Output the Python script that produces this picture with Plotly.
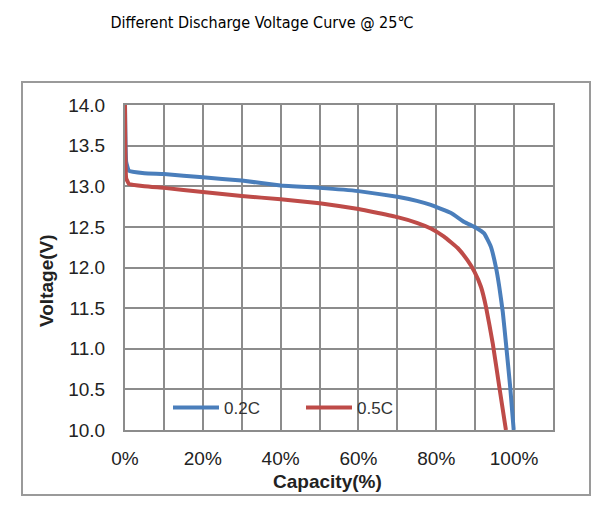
import plotly.graph_objects as go

cap_02 = [0, 0.3, 1, 5, 10, 20, 30, 40, 50, 60, 70, 75, 78.6, 83.8, 87.2, 90.2, 92.3, 94.0, 95.3, 96.2, 97.1, 97.9, 99.0, 99.9]
volt_02 = [14.0, 13.3, 13.19, 13.16, 13.15, 13.11, 13.07, 13.01, 12.98, 12.94, 12.87, 12.82, 12.77, 12.67, 12.56, 12.49, 12.42, 12.26, 12.01, 11.76, 11.45, 11.07, 10.53, 10.0]

cap_05 = [0, 0.3, 1, 5, 10, 20, 30, 40, 50, 60, 70, 75, 78.6, 82, 85.5, 88, 89.8, 91.5, 92.8, 94.5, 96.2, 97.9]
volt_05 = [14.0, 13.1, 13.03, 13.0, 12.98, 12.93, 12.88, 12.84, 12.79, 12.72, 12.62, 12.55, 12.48, 12.38, 12.24, 12.09, 11.95, 11.76, 11.51, 11.07, 10.53, 10.0]

x_ticks = [0, 10, 20, 30, 40, 50, 60, 70, 80, 90, 100, 110]
x_labels = ["0%", "", "20%", "", "40%", "", "60%", "", "80%", "", "100%", ""]
y_ticks = [10.0, 10.5, 11.0, 11.5, 12.0, 12.5, 13.0, 13.5, 14.0]
y_labels = ["10.0", "10.5", "11.0", "11.5", "12.0", "12.5", "13.0", "13.5", "14.0"]

fig = go.Figure()
fig.add_trace(go.Scatter(x=cap_02, y=volt_02, mode="lines", name="0.2C",
                         line=dict(color="#4A7EBB", width=4, shape="spline", smoothing=0.3)))
fig.add_trace(go.Scatter(x=cap_05, y=volt_05, mode="lines", name="0.5C",
                         line=dict(color="#BE4B48", width=4, shape="spline", smoothing=0.3)))

# page body has an 8px offset
OFF = 8
W, H = 608 - 2 * OFF, 513 - 2 * OFF
L, T = 125 - OFF, 105 - OFF
R = W - (553 - OFF)
B = H - (430 - OFF)
pw, ph = W - L - R, H - T - B

def px(p):
    return (p - OFF - L) / pw

def py(p):
    return (H - B - (p - OFF)) / ph

fig.add_shape(type="rect", xref="paper", yref="paper",
              x0=px(22), x1=px(590), y0=py(495), y1=py(82),
              line=dict(color="#9a9a9a", width=2), layer="below")

fig.add_annotation(text="<b>Capacity(%)</b>", xref="paper", yref="paper",
                   x=px(327), y=py(481), xanchor="center", yanchor="middle", showarrow=False,
                   font=dict(family="Liberation Sans, Arial", size=19, color="#222"))
fig.add_annotation(text="<b>Voltage(V)</b>", xref="paper", yref="paper",
                   x=px(46), y=py(281), xanchor="center", yanchor="middle", showarrow=False, textangle=-90,
                   font=dict(family="Liberation Sans, Arial", size=19, color="#222"))

fig.update_layout(
    width=W, height=H,
    margin=dict(l=L, r=R, t=T, b=B),
    paper_bgcolor="white", plot_bgcolor="white",
    title=dict(text="Different Discharge Voltage Curve @ 25℃",
               x=(262 - OFF) / W, xref="container", xanchor="center",
               y=1 - (22 - OFF) / H, yref="container", yanchor="middle",
               font=dict(family="DejaVu Sans Condensed, Arial", size=16, color="#000")),
    showlegend=True,
    legend=dict(orientation="h", x=px(168), y=py(408),
                xanchor="left", yanchor="middle", bgcolor="rgba(0,0,0,0)",
                font=dict(family="Liberation Sans, Arial", size=17, color="#333"),
                itemwidth=46, tracegroupgap=0, entrywidth=72),
    font=dict(family="Liberation Sans, Arial", color="#333"),
)
fig.update_xaxes(range=[0, 110], tickvals=x_ticks, ticktext=x_labels,
                 showgrid=True, gridcolor="#8c8c8c", gridwidth=1.5,
                 showline=True, linecolor="#8c8c8c", linewidth=2, mirror=True,
                 zeroline=False, ticks="", ticklabelstandoff=10,
                 tickfont=dict(size=19, color="#222"))
fig.update_yaxes(range=[10, 14], tickvals=y_ticks, ticktext=y_labels,
                 showgrid=True, gridcolor="#8c8c8c", gridwidth=1.5,
                 showline=True, linecolor="#8c8c8c", linewidth=2, mirror=True,
                 zeroline=False, ticks="", ticklabelstandoff=14,
                 tickfont=dict(size=19, color="#222"))

fig.write_html("out.html")
